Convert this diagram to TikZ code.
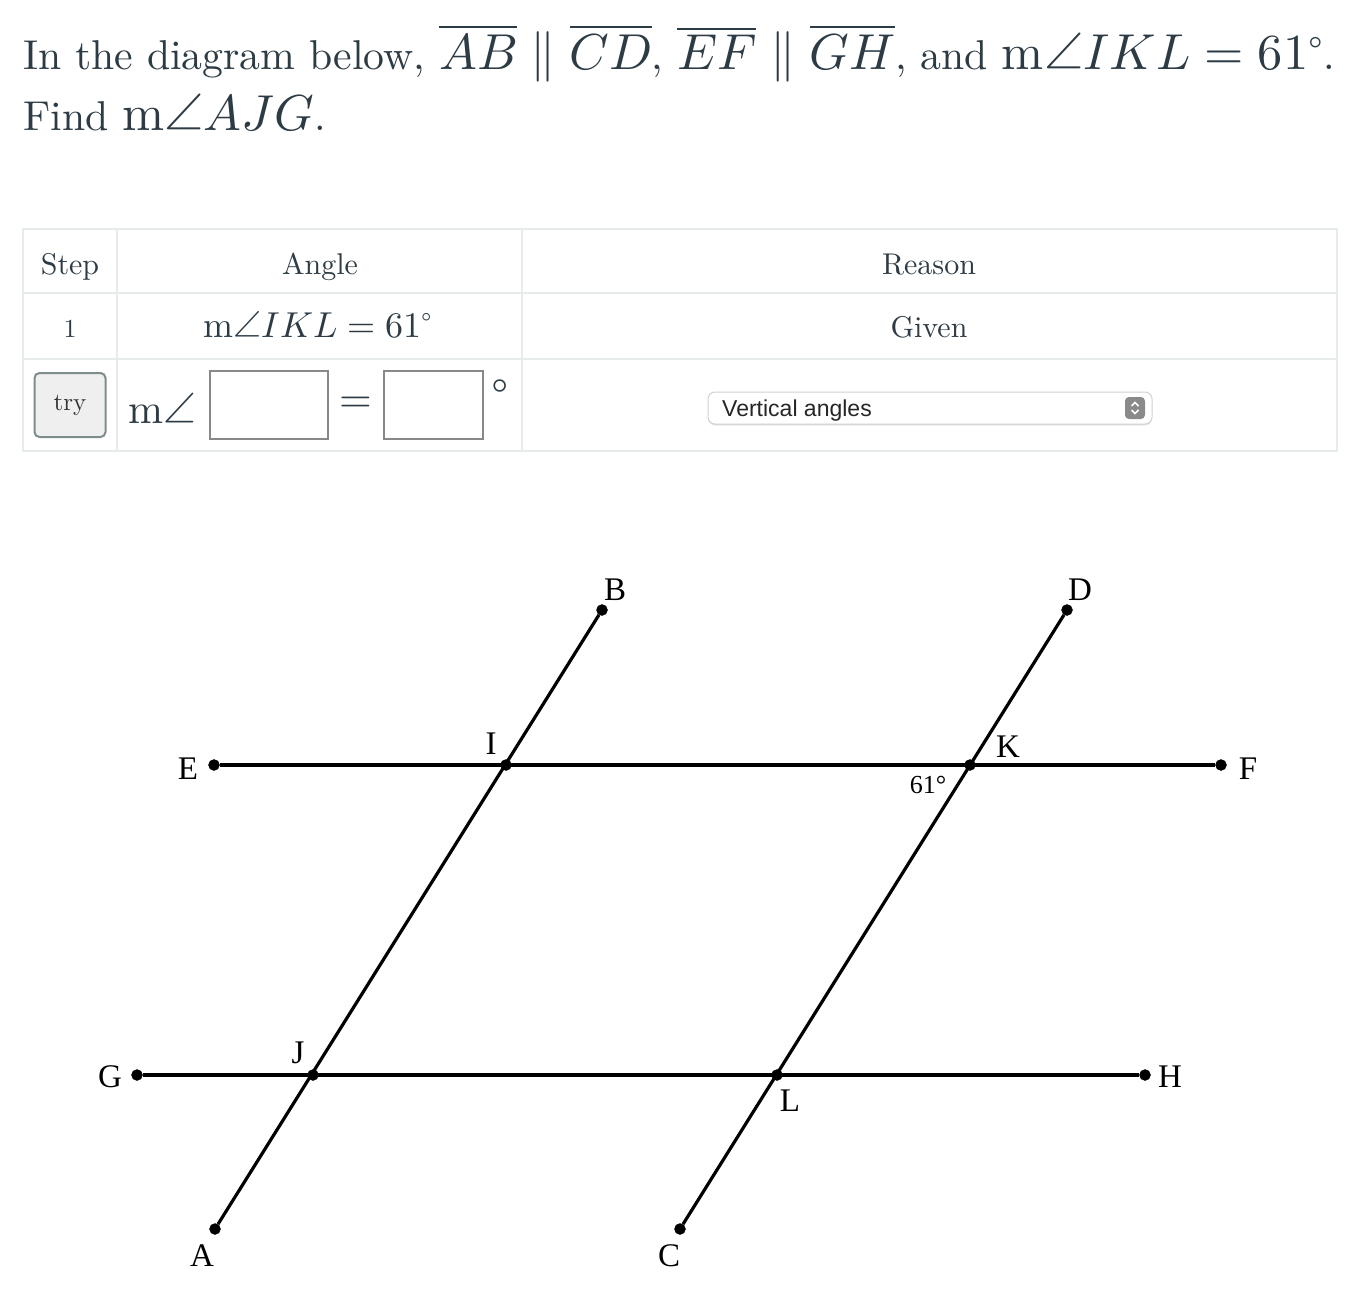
\documentclass[tikz,border=0pt]{standalone}
\usepackage{fontspec}
\usepackage{unicode-math}
\setmainfont{lmroman10-regular.otf}
\setmathfont{Latin Modern Math}
\newfontfamily\labelfont{Liberation Serif}
\newfontfamily\uifont{Liberation Sans}
\usetikzlibrary{shadows}
\pgfdeclarelayer{edgelayer}
\pgfdeclarelayer{nodelayer}
\pgfsetlayers{edgelayer,nodelayer,main}
\definecolor{ink}{HTML}{2D3B45}
\definecolor{rulegray}{HTML}{E6EBEB}
\definecolor{boxgray}{HTML}{888888}
\definecolor{buttongray}{HTML}{EFEFEF}
\definecolor{buttonedge}{HTML}{7F8C8D}
\definecolor{spingray}{HTML}{8A8A8A}
\newcommand{\qmath}[1]{{\fontsize{50.5}{60}\selectfont$#1$}}
\tikzstyle{blackvertex}=[circle,fill=black,draw=black,inner sep=0pt,minimum size=11pt]
\tikzstyle{edge}=[draw=black,line width=3.2pt]
\tikzstyle{ptlabel}=[font=\labelfont\fontsize{33}{33}\selectfont,text=black,inner sep=0pt,anchor=base]
\tikzstyle{qtext}=[font=\fontsize{41.7}{50}\selectfont,text=ink,inner sep=0pt,anchor=base west]
\tikzstyle{celltext}=[font=\fontsize{30}{36}\selectfont,text=ink,inner sep=0pt,anchor=base]
\tikzstyle{cellmath}=[font=\fontsize{36}{42}\selectfont,text=ink,inner sep=0pt,anchor=base]
\tikzstyle{bigmath}=[font=\fontsize{42}{50}\selectfont,text=ink,inner sep=0pt]
\tikzstyle{tablerule}=[draw=rulegray,line width=2pt]
\tikzstyle{inputbox}=[draw=boxgray,line width=2pt,fill=white,minimum height=68pt]
\begin{document}
\begin{tikzpicture}[x=1pt,y=-1pt]
\useasboundingbox (0,0) rectangle (1346,1292);

	%question
	\node [style=qtext] (q1) at (23,70) {In the diagram below, \qmath{\overline{AB}\parallel\overline{CD}}, \qmath{\overline{EF}\parallel\overline{GH}}, and \qmath{\mathrm{m}\angle IKL=61^\circ}.};
	\node [style=qtext] (q2) at (23,131) {Find \qmath{\mathrm{m}\angle AJG}.};

	%table
	\draw [style=tablerule] (23,229) rectangle (1337,451);
	\draw [style=tablerule] (23,293) -- (1337,293);
	\draw [style=tablerule] (23,359) -- (1337,359);
	\draw [style=tablerule] (117,229) -- (117,451);
	\draw [style=tablerule] (522,229) -- (522,451);

	\node [style=celltext] (hstep) at (70,274) {Step};
	\node [style=celltext] (hangle) at (320,274) {Angle};
	\node [style=celltext] (hreason) at (929,274) {Reason};
	\node [style=celltext, font=\fontsize{26}{30}\selectfont] (step1) at (70,337) {1};
	\node [style=cellmath] (angle1) at (318,337) {$\mathrm{m}\angle IKL=61^\circ$};
	\node [style=celltext] (reason1) at (929,337) {Given};

	%try row
	\node [draw=buttonedge, fill=buttongray, line width=2pt, rounded corners=5pt, minimum width=71pt, minimum height=64pt, font=\fontsize{25}{30}\selectfont, text=black!80] (try) at (70,405) {try};
	\node [style=bigmath, anchor=base] (mangle) at (162,423) {$\mathrm{m}\angle$};
	\node [style=inputbox, minimum width=118pt] (box1) at (269,405) {};
	\node [style=bigmath] (eq) at (356,405) {$=$};
	\node [style=inputbox, minimum width=99pt] (box2) at (433,405) {};
	\node [style=bigmath] (deg) at (500,388) {$\circ$};

	\node [draw=black!18, fill=white, line width=1pt, rounded corners=7pt, minimum width=444pt, minimum height=32pt, drop shadow={opacity=0.2,shadow xshift=0pt,shadow yshift=-1.5pt}] (reason2) at (930,408) {};
	\node [font=\uifont\fontsize{23}{26}\selectfont, text=black!85, inner sep=0pt, anchor=base west] (vert) at (722,416) {Vertical angles};
	\node [fill=spingray, rounded corners=4pt, minimum width=20pt, minimum height=22pt, inner sep=0pt] (spin) at (1135,408) {};
	\draw [white, line width=1.5pt] (1131.5,406) -- (1135,402.5) -- (1138.5,406);
	\draw [white, line width=1.5pt] (1131.5,410) -- (1135,413.5) -- (1138.5,410);

	\begin{pgfonlayer}{nodelayer}

	%points
		\node [style=blackvertex] (A) at (215,1229) {};
		\node [style=blackvertex] (B) at (602,610) {};
		\node [style=blackvertex] (C) at (680,1229) {};
		\node [style=blackvertex] (D) at (1067,610) {};
		\node [style=blackvertex] (E) at (214,765) {};
		\node [style=blackvertex] (F) at (1221,765) {};
		\node [style=blackvertex] (G) at (137,1075) {};
		\node [style=blackvertex] (H) at (1145,1075) {};
		\node [style=blackvertex] (I) at (506,765) {};
		\node [style=blackvertex] (J) at (313,1075) {};
		\node [style=blackvertex] (K) at (970,765) {};
		\node [style=blackvertex] (L) at (777,1075) {};

	%labels
		\node [style=ptlabel] (labA) at (202,1266) {A};
		\node [style=ptlabel] (labB) at (615,600) {B};
		\node [style=ptlabel] (labC) at (669,1266) {C};
		\node [style=ptlabel] (labD) at (1080,600) {D};
		\node [style=ptlabel] (labE) at (188,779) {E};
		\node [style=ptlabel] (labF) at (1248,779) {F};
		\node [style=ptlabel] (labG) at (110,1087) {G};
		\node [style=ptlabel] (labH) at (1170,1087) {H};
		\node [style=ptlabel] (labI) at (491,754) {I};
		\node [style=ptlabel] (labJ) at (298,1063) {J};
		\node [style=ptlabel] (labK) at (1008,757) {K};
		\node [style=ptlabel] (labL) at (790,1111) {L};
		\node [style=ptlabel, font=\labelfont\fontsize{26}{26}\selectfont] (angK) at (928,793) {61°};

	\end{pgfonlayer}
	\begin{pgfonlayer}{edgelayer}

		\draw [style=edge] (A) to (B);
		\draw [style=edge] (C) to (D);
		\draw [style=edge] (E) to (F);
		\draw [style=edge] (G) to (H);

	\end{pgfonlayer}
\end{tikzpicture}
\end{document}
